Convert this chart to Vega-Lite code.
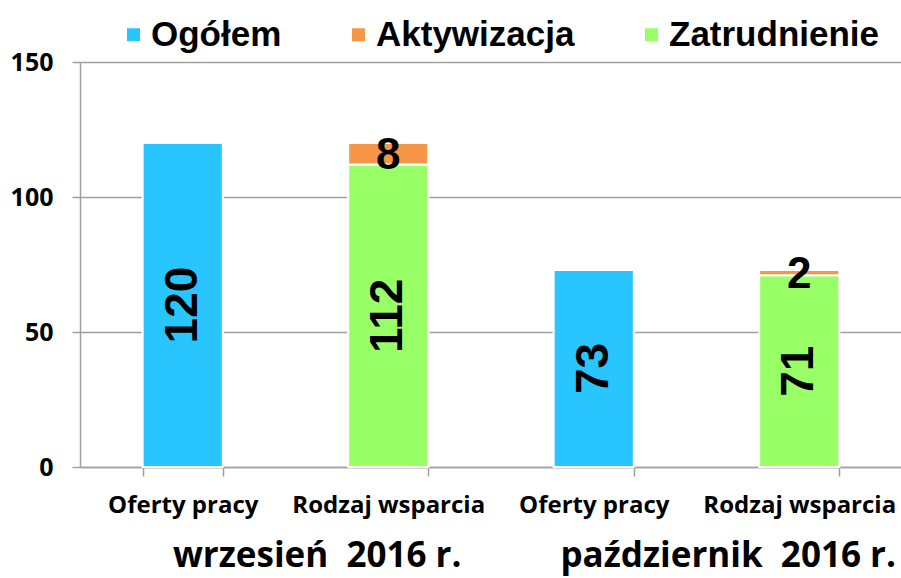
{
  "$schema": "https://vega.github.io/schema/vega-lite/v6.json",
  "autosize": "none",
  "width": 822,
  "height": 405,
  "padding": {"left": 80, "top": 62, "right": 0, "bottom": 111},
  "background": "white",
  "config": {"view": {"stroke": null}},
  "datasets": {
    "bars": [
      {"key": "wrzesień|Oferty pracy", "series": "Ogółem", "value": 120},
      {"key": "wrzesień|Rodzaj wsparcia", "series": "Zatrudnienie", "value": 112},
      {"key": "wrzesień|Rodzaj wsparcia", "series": "Aktywizacja", "value": 8},
      {"key": "październik|Oferty pracy", "series": "Ogółem", "value": 73},
      {"key": "październik|Rodzaj wsparcia", "series": "Zatrudnienie", "value": 71},
      {"key": "październik|Rodzaj wsparcia", "series": "Aktywizacja", "value": 2}
    ],
    "months": [
      {"key": "wrzesień|Rodzaj wsparcia", "label": "wrzesień\u00a0 2016 r."},
      {"key": "październik|Rodzaj wsparcia", "label": "październik\u00a0 2016 r."}
    ]
  },
  "layer": [
    {
      "data": {"name": "bars"},
      "transform": [
        {"stack": "value", "groupby": ["key"], "as": ["v0", "v1"], "sort": [{"field": "series", "order": "descending"}]},
        {"calculate": "(datum.v0 + datum.v1) / 2", "as": "mid"}
      ],
      "layer": [
        {
          "mark": {"type": "bar", "stroke": "white", "strokeWidth": 2},
          "encoding": {
            "x": {
              "field": "key", "type": "nominal",
              "scale": {"domain": ["wrzesień|Oferty pracy", "wrzesień|Rodzaj wsparcia", "październik|Oferty pracy", "październik|Rodzaj wsparcia"], "paddingInner": 0.61, "paddingOuter": 0.305},
              "axis": {
                "title": null,
                "labelExpr": "split(datum.value, '|')[1]",
                "labelAngle": 0,
                "labelFont": "Open Sans",
                "labelFontWeight": "bold",
                "labelFontSize": 24,
                "labelColor": "black",
                "labelPadding": 17,
                "labelLimit": 300,
                "domainColor": "#a0a0a0",
                "domainWidth": 1.5,
                "tickColor": "#a0a0a0",
                "tickWidth": 1.5,
                "tickSize": 9,
                "tickBand": "extent"
              }
            },
            "y": {
              "field": "v1", "type": "quantitative",
              "scale": {"domain": [0, 150], "nice": false},
              "axis": {
                "title": null,
                "values": [0, 50, 100, 150],
                "labelFont": "Open Sans",
                "labelFontWeight": "bold",
                "labelFontSize": 25,
                "labelColor": "black",
                "labelPadding": 19,
                "domainColor": "#a0a0a0",
                "domainWidth": 1.5,
                "tickColor": "#a0a0a0",
                "tickWidth": 1.5,
                "tickSize": 8,
                "grid": true,
                "gridColor": "#a0a0a0",
                "gridWidth": 1.5
              }
            },
            "y2": {"field": "v0"},
            "color": {
              "field": "series", "type": "nominal",
              "scale": {"domain": ["Ogółem", "Aktywizacja", "Zatrudnienie"], "range": ["#29C5FF", "#F79646", "#99FF66"]},
              "legend": {
                "title": null,
                "orient": "none",
                "direction": "horizontal",
                "legendX": 36,
                "legendY": -45,
                "padding": 0,
                "symbolType": "square",
                "symbolSize": 169,
                "symbolStrokeWidth": 0,
                "labelFont": "Liberation Sans",
                "labelFontWeight": "bold",
                "labelFontSize": 35,
                "labelColor": "black",
                "labelOffset": 0,
                "columnPadding": 59,
                "labelLimit": 400,
                "encode": {
                  "symbols": {
                    "update": {
                      "fill": {"signal": "datum.value === 'Ogółem' ? '#00B0F0' : (datum.value === 'Aktywizacja' ? '#F79646' : '#9BBB59')"}
                    }
                  }
                }
              }
            },
            "order": {"field": "series", "sort": "descending"}
          }
        },
        {
          "transform": [{"filter": "datum.series !== 'Aktywizacja'"}],
          "mark": {"type": "text", "angle": 270, "font": "Liberation Sans", "fontWeight": "bold", "fontSize": 46, "color": "black", "align": "center", "baseline": "middle"},
          "encoding": {
            "x": {"field": "key", "type": "nominal"},
            "y": {"field": "mid", "type": "quantitative"},
            "text": {"field": "value", "type": "quantitative"}
          }
        },
        {
          "transform": [{"filter": "datum.series === 'Aktywizacja'"}],
          "mark": {"type": "text", "angle": 0, "font": "Liberation Sans", "fontWeight": "bold", "fontSize": 44, "color": "black", "align": "center", "baseline": "middle", "dy": 2},
          "encoding": {
            "x": {"field": "key", "type": "nominal"},
            "y": {"field": "mid", "type": "quantitative"},
            "text": {"field": "value", "type": "quantitative"}
          }
        }
      ]
    },
    {
      "data": {"name": "months"},
      "mark": {"type": "text", "font": "Open Sans", "fontWeight": "bold", "fontSize": 35, "color": "black", "align": "center", "baseline": "middle", "dy": 89, "dx": -31},
      "encoding": {
        "x": {"field": "key", "type": "nominal", "bandPosition": 0},
        "y": {"datum": 0, "type": "quantitative"},
        "text": {"field": "label"}
      }
    }
  ]
}
